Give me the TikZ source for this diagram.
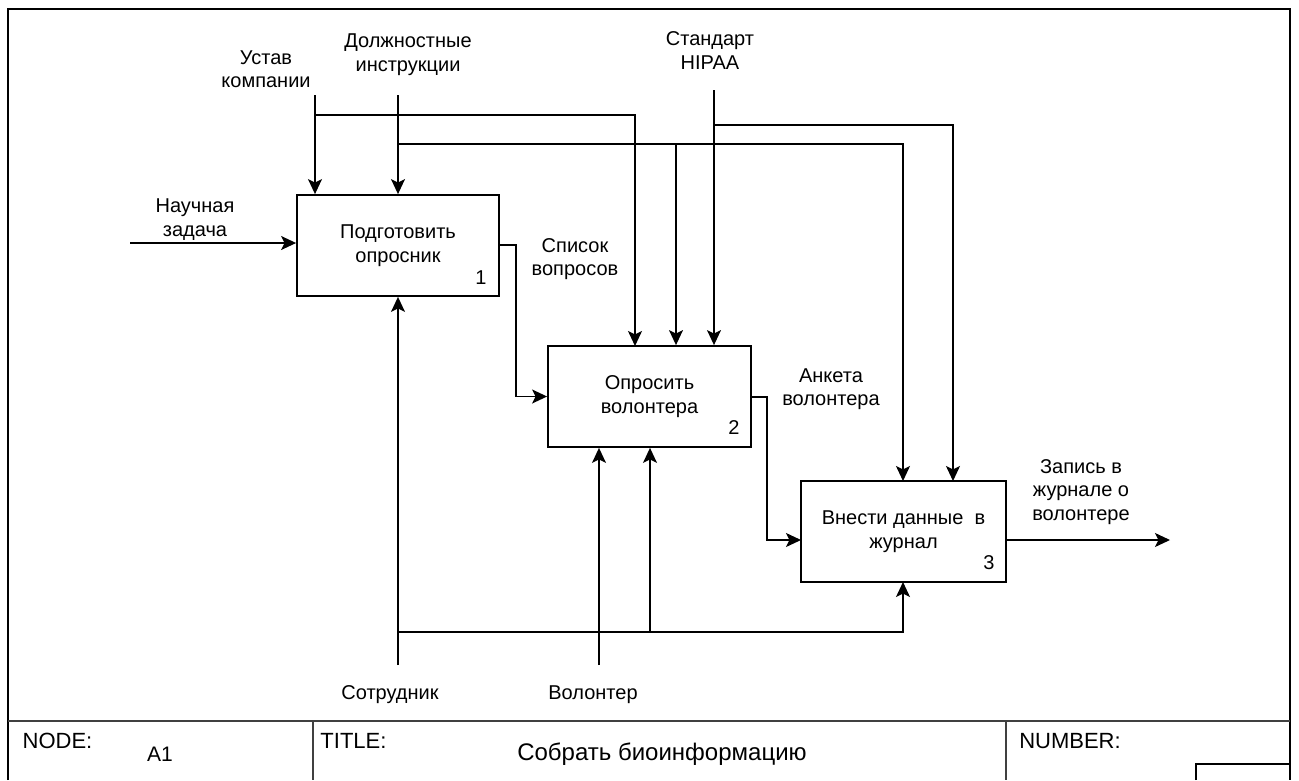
\documentclass[tikz,border=0pt]{standalone}
\usepackage{fontspec}
\setmainfont{Liberation Sans}
\usetikzlibrary{arrows.meta}

\begin{document}
\begin{tikzpicture}[x=1pt,y=-1pt,
  lbl/.style={font=\fontsize{20}{23.5}\selectfont, align=center, inner sep=0pt},
  tb/.style={font=\fontsize{22}{26}\selectfont, inner sep=0pt, anchor=base},
  func/.style={draw, line width=1.8pt, inner sep=0pt, align=center,
    font=\fontsize{20}{23.5}\selectfont, minimum height=101pt},
  flow/.style={line width=1.4pt, -{Stealth[length=15pt,width=14pt,inset=3.5pt]}},
  wire/.style={line width=1.4pt},
  frame/.style={line width=2pt},
  sheet/.style={line width=1.5pt, black!75}]

\useasboundingbox (0,0) rectangle (1299,780);

% sheet frame and title block
\draw[frame] (8,780) -- (8,9) -- (1290,9) -- (1290,780);
\draw[sheet] (8,721) -- (1290,721);
\draw[sheet] (313,721) -- (313,780);
\draw[sheet] (1006,721) -- (1006,780);
\draw[frame] (1196,780) -- (1196,764) -- (1290,764);
\node[tb] (nodelbl) at (57.5,748) {NODE:};
\node[tb, font=\fontsize{21}{25}\selectfont] (nodeval) at (160,761) {A1};
\node[tb] (titlelbl) at (353.5,748) {TITLE:};
\node[tb, font=\fontsize{24}{28}\selectfont] (titleval) at (662,760) {Собрать биоинформацию};
\node[tb] (numlbl) at (1070,748) {NUMBER:};

% activity boxes
\node[func, minimum width=202pt] (b1) at (398,245.5) {Подготовить\\опросник};
\node[func, minimum width=203pt] (b2) at (649.5,396.5) {Опросить\\волонтера};
\node[func, minimum width=205pt] (b3) at (903.5,531.5) {Внести данные\ \ в\\журнал};
\node[lbl] (n1) at (481,277.5) {1};
\node[lbl] (n2) at (734,428) {2};
\node[lbl] (n3) at (989,562.5) {3};

% arrow labels
\node[lbl] (lustav) at (266,69) {Устав\\компании};
\node[lbl] (ldolzh) at (408,54.5) {Должностные\\инструкции};
\node[lbl] (lhipaa) at (710,50.5) {Стандарт\\HIPAA};
\node[lbl] (lzadacha) at (195,219.5) {Научная\\задача};
\node[lbl] (lspisok) at (575,259) {Список\\вопросов};
\node[lbl] (lanketa) at (831,389) {Анкета\\волонтера};
\node[lbl] (lzapis) at (1081,492) {Запись в\\журнале о\\волонтере};
\node[lbl, anchor=base] (lsotr) at (390,699) {Сотрудник};
\node[lbl, anchor=base] (lvol) at (593,699) {Волонтер};

% free ends and branch points
\coordinate (src-zad) at (130,243);
\coordinate (src-ust) at (315,95);
\coordinate (src-dol) at (398,95);
\coordinate (src-hip) at (714,90);
\coordinate (src-sot) at (398,665);
\coordinate (src-vol) at (599,665);
\coordinate (out-end) at (1170,540);
\coordinate (j-ust) at (315,115);
\coordinate (j-dol) at (398,144);
\coordinate (j-dol2) at (676,144);
\coordinate (j-hip) at (714,125);
\coordinate (j-sot) at (398,632);
\coordinate (j-sot2) at (650,632);
\coordinate (b2-c1) at (635,346);
\coordinate (b3-c1) at (903,481);
\coordinate (b3-c2) at (953,481);
\coordinate (b1-o) at (499,245);
\coordinate (b1-k) at (516,245);
\coordinate (b2-o) at (751,397);
\coordinate (b2-k) at (767,397);
\coordinate (b3-i) at (801,540);
\coordinate (b3-o) at (1006,540);
\coordinate (b3-m) at (903,582);

% input
\draw[flow] (src-zad) -- (src-zad -| b1.west);

% controls
\draw[flow] (src-ust) -- (src-ust |- b1.north);
\draw[flow] (src-dol) -- (src-dol |- b1.north);
\draw[flow] (j-ust) -| (b2-c1);
\draw[flow] (j-dol) -| (b3-c1);
\draw[flow] (j-dol2) -- (j-dol2 |- b2.north);
\draw[flow] (src-hip) -- (src-hip |- b2.north);
\draw[flow] (j-hip) -| (b3-c2);

% outputs passed between activities
\draw[flow] (b1-o) -- (b1-k) |- (b2.west);
\draw[flow] (b2-o) -- (b2-k) |- (b3-i);
\draw[flow] (b3-o) -- (out-end);

% mechanisms
\draw[flow] (src-sot) -- (src-sot |- b1.south);
\draw[flow] (j-sot) -| (b3-m);
\draw[flow] (j-sot2) -- (j-sot2 |- b2.south);
\draw[flow] (src-vol) -- (src-vol |- b2.south);

\end{tikzpicture}
\end{document}
